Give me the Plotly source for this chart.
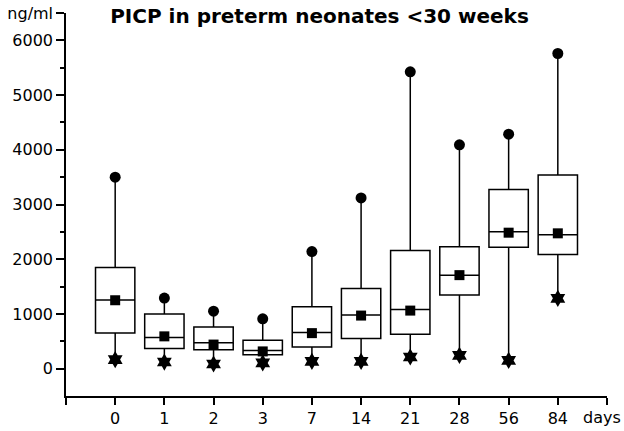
import plotly.graph_objects as go

days = ["0", "1", "2", "3", "7", "14", "21", "28", "56", "84"]
q1 = [650, 370, 345, 255, 394, 552, 630, 1345, 2218, 2085]
median = [1255, 570, 473, 333, 660, 982, 1079, 1709, 2503, 2448]
q3 = [1850, 1000, 760, 520, 1133, 1467, 2158, 2230, 3273, 3539]
mean = [1250, 590, 440, 315, 649, 970, 1061, 1709, 2485, 2473]
max_vals = [3500, 1290, 1050, 910, 2140, 3120, 5425, 4090, 4285, 5760]
min_vals = [165, 120, 85, 105, 133, 133, 212, 242, 151, 1285]
y_tick_vals = [0, 1000, 2000, 3000, 4000, 5000, 6000, 6500]
y_tick_text = ["0", "1000", "2000", "3000", "4000", "5000", "6000", "ng/ml"]
y_minor_vals = [500, 1500, 2500, 3500, 4500, 5500]

pos = list(range(len(days)))
FONT = "DejaVu Sans"

fig = go.Figure()
fig.add_trace(go.Box(
    x=pos, q1=q1, median=median, q3=q3,
    lowerfence=min_vals, upperfence=max_vals,
    width=0.8, whiskerwidth=0, boxpoints=False,
    line=dict(color="black", width=1.5), fillcolor="white",
    showlegend=False, hoverinfo="skip",
))
fig.add_trace(go.Scatter(x=pos, y=max_vals, mode="markers",
                         marker=dict(symbol="circle", size=11, color="black"),
                         showlegend=False))
fig.add_trace(go.Scatter(x=pos, y=min_vals, mode="markers",
                         marker=dict(symbol="hexagram", size=13, color="black"),
                         showlegend=False))
fig.add_trace(go.Scatter(x=pos, y=mean, mode="markers",
                         marker=dict(symbol="square", size=10, color="black"),
                         showlegend=False))

fig.update_layout(
    width=624, height=431,
    margin=dict(l=66, r=17, t=13, b=35),
    paper_bgcolor="white", plot_bgcolor="white",
    font=dict(family=FONT, size=16, color="black"),
    title=dict(text="<b>PICP in preterm neonates &lt;30 weeks</b>",
               x=0.512, xanchor="center", xref="container",
               y=1 - 16 / 431, yanchor="middle", yref="container",
               font=dict(family=FONT, size=20, color="black")),
    annotations=[dict(text="days", x=10, xref="x", xshift=-5,
                      y=0, yref="paper", yshift=-21, yanchor="middle",
                      xanchor="center", showarrow=False,
                      font=dict(family=FONT, size=16, color="black"))],
)
fig.update_xaxes(
    range=[-1, 10], showgrid=False, zeroline=False, automargin=False,
    showline=True, linecolor="black", linewidth=1.5,
    ticks="outside", ticklen=7, tickwidth=1.5, tickcolor="black",
    tickmode="array", tickvals=[-1] + pos + [10],
    ticktext=[""] + days + [""],
)
fig.update_yaxes(
    range=[-500, 6500], showgrid=False, zeroline=False, automargin=False,
    showline=True, linecolor="black", linewidth=1.5,
    ticks="outside", ticklen=8, tickwidth=1.5, tickcolor="black",
    tickmode="array", tickvals=y_tick_vals, ticktext=y_tick_text,
    ticklabeloverflow="allow",
    minor=dict(tickvals=y_minor_vals, ticks="outside", ticklen=4,
               tickwidth=1.5, tickcolor="black"),
)
fig.write_html("out.html",
               config={"displayModeBar": False},
               post_script="document.body.style.margin='0';document.body.style.overflow='hidden';")
